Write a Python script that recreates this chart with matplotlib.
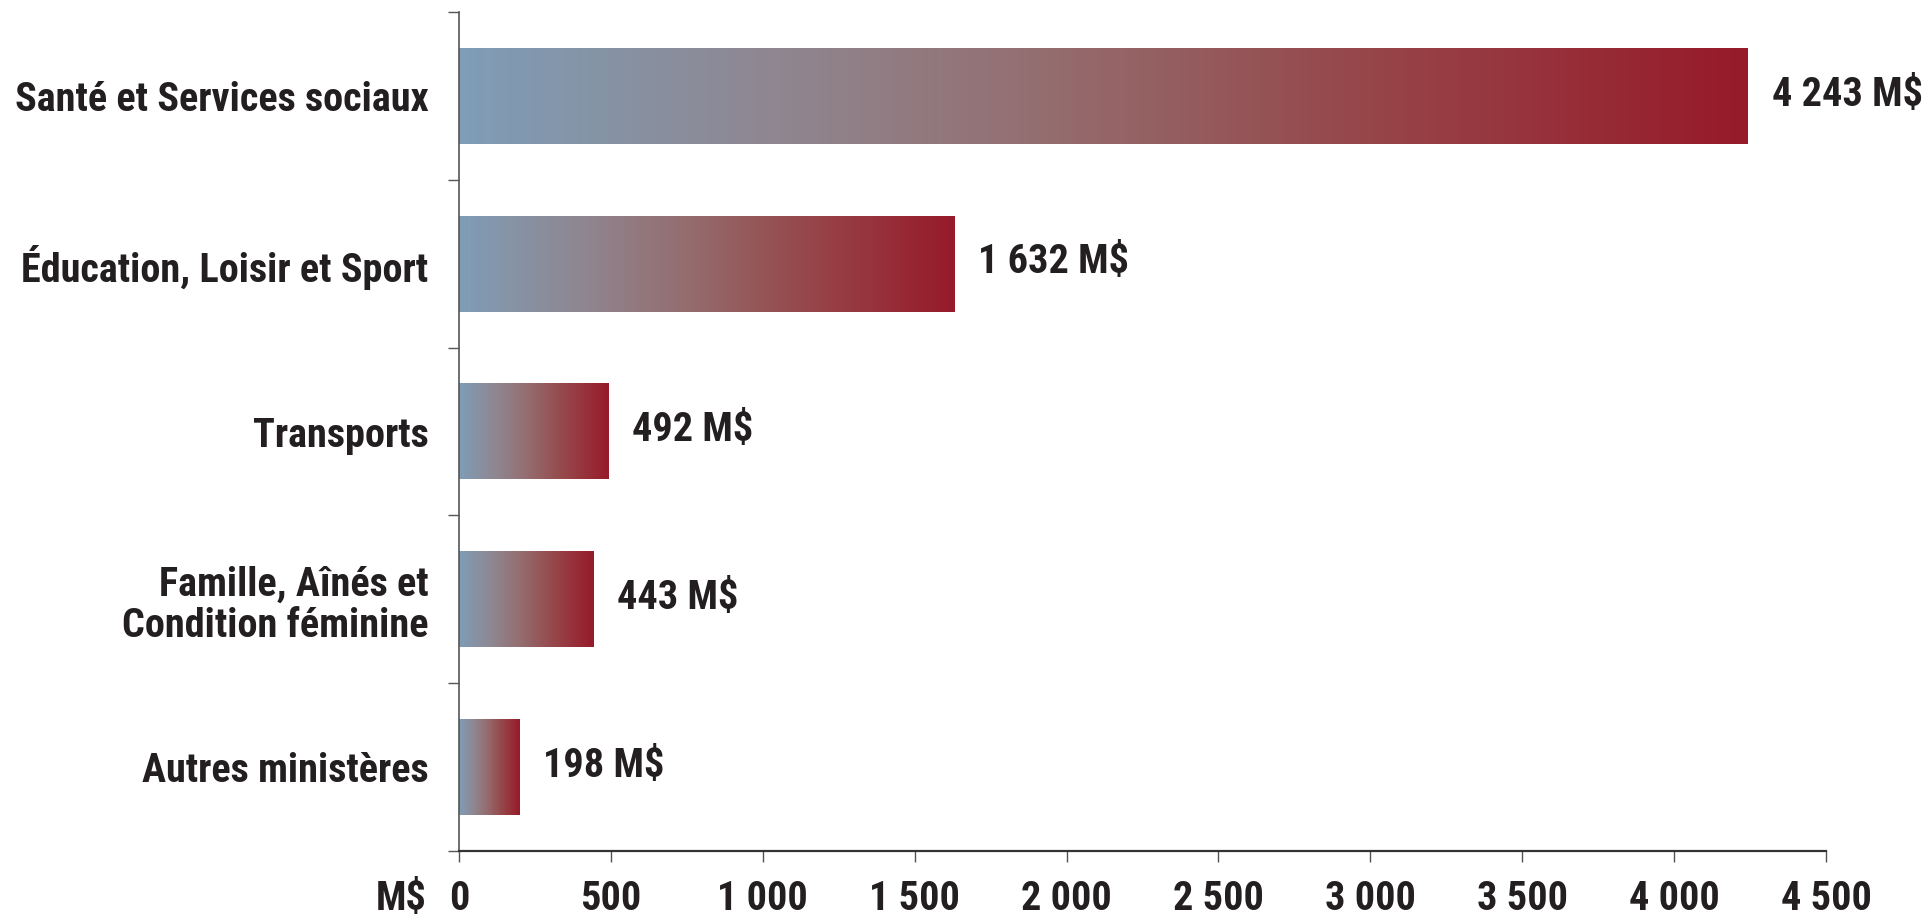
import os
import numpy as np
import matplotlib
matplotlib.use("Agg")
import matplotlib.pyplot as plt
from matplotlib import font_manager
from matplotlib.font_manager import FontProperties
from matplotlib.colors import LinearSegmentedColormap
from matplotlib.transforms import blended_transform_factory

# data
categories = ["Santé et Services sociaux",
              "Éducation, Loisir et Sport",
              "Transports",
              "Famille, Aînés et\nCondition féminine",
              "Autres ministères"]
values = [4243, 1632, 492, 443, 198]
value_labels = ["4 243 M$", "1 632 M$", "492 M$", "443 M$", "198 M$"]
xticks = [0, 500, 1000, 1500, 2000, 2500, 3000, 3500, 4000, 4500]
xtick_labels = ["0", "500", "1 000", "1 500", "2 000", "2 500", "3 000", "3 500", "4 000", "4 500"]


def is_bold(f):
    w = f.weight
    if isinstance(w, str):
        return w in ("bold", "heavy", "black", "extra bold", "demibold")
    return w >= 600


# look for a condensed bold font file (the original uses a condensed sans)
prefs = ["liberationsansnarrow", "arialnarrow", "robotocondensed", "dejavusanscondensed",
         "notosans-condensed", "opensans-condensed", "opensanscondensed", "condensed", "narrow"]
found = {}
for f in font_manager.fontManager.ttflist:
    fn = os.path.basename(f.fname).lower().replace(" ", "")
    if not is_bold(f):
        continue
    if "italic" in fn or "oblique" in fn or "semi" in fn or "extra" in fn or "ultra" in fn:
        continue
    for p in prefs:
        if p in fn:
            found.setdefault(p, f.fname)
            break
path = None
for p in prefs:
    if p in found:
        path = found[p]
        break

if path:
    fs = 29
    base = FontProperties(fname=path)
else:
    fs = 24
    base = FontProperties(family="Liberation Sans", weight="bold")


def fp(size=fs):
    q = base.copy()
    q.set_size(size)
    return q


txt = "#231f20"

grad = LinearSegmentedColormap.from_list(
    "bluered",
    [(0.0, "#7f9db6"), (0.25, "#8f8690"), (0.45, "#946e70"),
     (0.7, "#96474a"), (1.0, "#971a2a")])

fig = plt.figure(figsize=(19.30, 9.21), dpi=100)
ax = fig.add_axes([459 / 1930, 70 / 921, (1826 - 459) / 1930, (909 - 70) / 921])

ypos = np.arange(len(categories))
bar_h = 0.57
ramp = np.linspace(0, 1, 256).reshape(1, -1)
for y, v, lab in zip(ypos, values, value_labels):
    ax.imshow(ramp, cmap=grad, aspect="auto", interpolation="bilinear",
              extent=[0, v, y + bar_h / 2, y - bar_h / 2], zorder=2)
    ax.annotate(lab, xy=(v, y), xytext=(17, 1), textcoords="offset points",
                ha="left", va="center", fontproperties=fp(), color=txt)

ax.set_xlim(0, 4500)
ax.set_ylim(len(categories) - 0.5, -0.5)

for s in ["top", "right"]:
    ax.spines[s].set_visible(False)
ax.spines["left"].set_color("#555555")
ax.spines["bottom"].set_color("#333333")
ax.spines["left"].set_linewidth(1.2)
ax.spines["bottom"].set_linewidth(1.6)

ax.set_xticks(xticks)
ax.set_xticklabels(xtick_labels, fontproperties=fp())
ax.tick_params(axis="x", length=8, width=1, color="#555555", pad=13, labelcolor=txt)

ax.set_yticks(np.arange(len(categories) + 1) - 0.5)
ax.set_yticklabels([])
ax.tick_params(axis="y", which="major", length=8, width=1, color="#555555")
ax.set_yticks(ypos, minor=True)
ax.set_yticklabels(categories, minor=True, ha="right", multialignment="right",
                   linespacing=1.12, fontproperties=fp())
ax.tick_params(axis="y", which="minor", length=0, pad=22, labelcolor=txt)
for t in ax.get_yticklabels(minor=True):
    t.set_y(t.get_position()[1])
    t.set_va("center_baseline")

trans = blended_transform_factory(ax.transData, ax.transAxes)
ax.annotate("M$", xy=(0, 0), xycoords=trans, xytext=(-23, -21),
            textcoords="offset points", ha="right", va="top",
            fontproperties=fp(), color=txt)

fig.savefig("out.png", dpi=100, facecolor="white")
